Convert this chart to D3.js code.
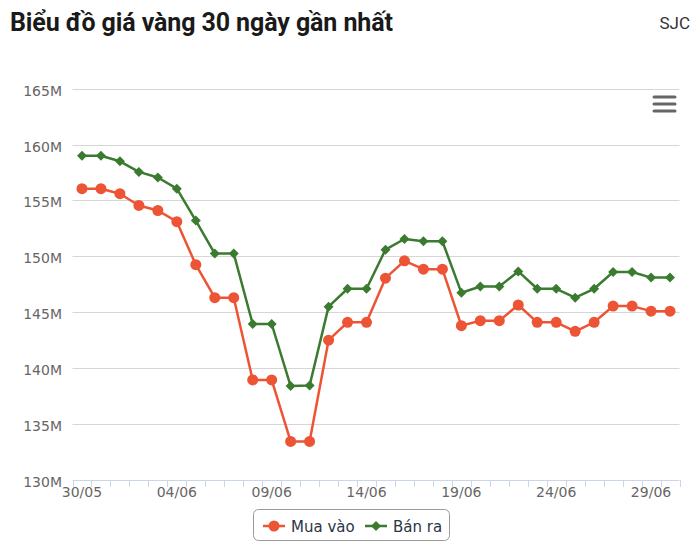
<!DOCTYPE html>
<html>
<head>
<meta charset='utf-8' />
<title></title>
<style>
  body{ margin:0; background:#fff; }
  svg{ display:block; }
  .axis text{ font-family:'DejaVu Sans', Verdana, sans-serif; font-size:14px; fill:#666; }
</style>
</head>
<body>
<script src="https://cdn.jsdelivr.net/npm/d3@7"></script>
<script>

// dates (category labels)
let dates = ['30/05','31/05','01/06','02/06','03/06','04/06','05/06','06/06','07/06','08/06','09/06',
  '10/06','11/06','12/06','13/06','14/06','15/06','16/06','17/06','18/06','19/06','20/06',
  '21/06','22/06','23/06','24/06','25/06','26/06','27/06','28/06','29/06','30/06']

// prices, million VND
let buy = [156.05,156.05,155.6,154.55,154.1,153.1,149.25,146.3,146.3,138.95,138.95,133.45,133.45,142.5,144.1,144.1,
  148.05,149.6,148.85,148.85,143.8,144.25,144.25,145.65,144.1,144.1,143.3,144.1,145.55,145.55,145.1,145.1]
let sell = [159.0,159.0,158.5,157.55,157.05,156.05,153.2,150.25,150.25,143.95,143.95,138.4,138.45,145.5,147.1,147.1,
  150.6,151.55,151.35,151.35,146.75,147.3,147.3,148.65,147.1,147.1,146.3,147.1,148.6,148.6,148.1,148.1]

let yTicks = [130,135,140,145,150,155,160,165]
let series = [
  {name:'Mua vào', values:buy, color:'#ec5435', marker:'circle'},
  {name:'Bán ra', values:sell, color:'#3b7b30', marker:'diamond'}
]

let width = 700, height = 552,
  p_left = 72.5, p_right = 679.5, p_top = 88.6, p_bottom = 480

let svg = d3.select('body').append('svg').attr('width',width).attr('height',height)

svg.append('text').attr('x',10).attr('y',31)
  .style('font-family','Roboto, sans-serif').style('font-weight','700').style('font-size','25px')
  .style('fill','#1a1a1a').style('letter-spacing','-0.1px')
  .text('Biểu đồ giá vàng 30 ngày gần nhất')

svg.append('text').attr('x',690).attr('y',29).attr('text-anchor','end')
  .style('font-family','Roboto, sans-serif').style('font-size','17px').style('fill','#333')
  .text('SJC')

let x = d3.scaleBand().domain(dates).range([p_left,p_right]),
  y = d3.scaleLinear().domain([130,165]).range([p_bottom,p_top])

// grid + y labels
let ya = svg.append('g').attr('class','axis')
ya.selectAll('line').data(yTicks).enter().append('line')
  .attr('x1',p_left).attr('x2',p_right)
  .attr('y1',d => Math.round(y(d))+0.5).attr('y2',d => Math.round(y(d))+0.5)
  .style('stroke',d => d == 130 ? '#ccd6eb' : '#d6d6d6').style('stroke-width',1)
ya.selectAll('text').data(yTicks).enter().append('text')
  .attr('x',62).attr('y',d => y(d)+7).attr('text-anchor','end')
  .text(d => d+'M')

// x axis ticks at category boundaries
let xa = svg.append('g').attr('class','axis')
let bounds = dates.map(d => x(d)).concat([p_right])
xa.selectAll('line').data(bounds).enter().append('line')
  .attr('x1',d => Math.round(d)+0.5).attr('x2',d => Math.round(d)+0.5)
  .attr('y1',p_bottom).attr('y2',p_bottom+7)
  .style('stroke','#ccd6eb')
xa.selectAll('text').data(dates.filter((d,i) => i%5 == 0)).enter().append('text')
  .attr('x',d => x(d)+x.bandwidth()/2).attr('y',p_bottom+17).attr('text-anchor','middle')
  .text(d => d)

let line = d3.line().x((d,i) => x(dates[i])+x.bandwidth()/2).y(d => y(d))

function drawMarker(g, type, color, cx, cy, r){
  if(type == 'circle'){
    g.append('circle').attr('cx',cx).attr('cy',cy).attr('r',r).style('fill',color)
  }else{
    g.append('path').attr('d','M'+cx+','+(cy-r)+'L'+(cx+r)+','+cy+'L'+cx+','+(cy+r)+'L'+(cx-r)+','+cy+'Z').style('fill',color)
  }
}

series.slice().reverse().forEach(s => {
  let g = svg.append('g')
  g.append('path').datum(s.values).attr('d',line)
    .style('fill','none').style('stroke',s.color).style('stroke-width',2.5).style('stroke-linejoin','round')
  s.values.forEach((v,i) => {
    drawMarker(g, s.marker, s.color, x(dates[i])+x.bandwidth()/2, y(v), s.marker == 'circle' ? 5.5 : 5)
  })
})

// menu icon
let menu = svg.append('g')
;[97,104,111].forEach(yy => {
  menu.append('line').attr('x1',654).attr('x2',675).attr('y1',yy).attr('y2',yy)
    .style('stroke','#666').style('stroke-width',3).style('stroke-linecap','round')
})

// legend
let lg = svg.append('g')
lg.append('rect').attr('x',253.5).attr('y',509.5).attr('width',196).attr('height',31).attr('rx',5)
  .style('fill','#fff').style('stroke','#999')
let lx = [263,365]
series.forEach((s,i) => {
  lg.append('line').attr('x1',lx[i]).attr('x2',lx[i]+22).attr('y1',526).attr('y2',526)
    .style('stroke',s.color).style('stroke-width',2.5)
  drawMarker(lg, s.marker, s.color, lx[i]+11, 526, s.marker == 'circle' ? 5.5 : 5)
  lg.append('text').attr('x',lx[i]+28).attr('y',531.5)
    .style('font-family',"'DejaVu Sans', Verdana, sans-serif").style('font-size','15px').style('fill','#2b3547')
    .text(s.name)
})

</script>
</body>
</html>
